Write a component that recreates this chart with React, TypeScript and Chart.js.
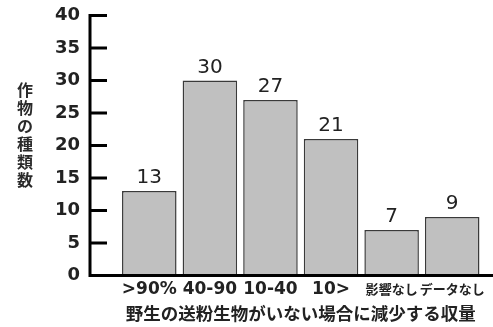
import React, { useEffect, useRef } from "react";
import { Chart, registerables } from "chart.js";

Chart.register(...registerables);

// Number of crop species by yield loss without wild pollinators
const categories = [">90%", "40-90", "10-40", "10>", "影響なし", "データなし"];
const cropCounts = [13, 30, 27, 21, 7, 9];
const yTitleChars = ["作", "物", "の", "種", "類", "数"];
const xTitle = "野生の送粉生物がいない場合に減少する収量";
const yMax = 40;
const yStep = 5;

const LATIN = "'DejaVu Sans', 'Noto Sans CJK JP', sans-serif";
const CJK = "'Noto Sans CJK JP', sans-serif";
const TEXT = "#222";

// Thick black L-shaped axes with inward tick marks on the y axis
const axesPlugin = {
  id: "axesL",
  afterDraw(chart: any) {
    const { ctx, chartArea, scales } = chart;
    const y = scales.y;
    const axisX = chartArea.left - 29;
    const base = y.getPixelForValue(0);
    const top = y.getPixelForValue(yMax);
    ctx.save();
    ctx.strokeStyle = "#000";
    ctx.lineWidth = 3;
    ctx.lineCap = "butt";
    ctx.beginPath();
    ctx.moveTo(axisX, top - 1.5);
    ctx.lineTo(axisX, base);
    ctx.moveTo(axisX - 1.5, base);
    ctx.lineTo(chart.width, base);
    for (let v = yStep; v <= yMax; v += yStep) {
      const py = y.getPixelForValue(v);
      ctx.moveTo(axisX, py);
      ctx.lineTo(axisX + 17, py);
    }
    ctx.stroke();
    ctx.restore();
  },
};

// Value labels above each bar
const valueLabelPlugin = {
  id: "valueLabels",
  afterDatasetsDraw(chart: any) {
    const { ctx } = chart;
    const meta = chart.getDatasetMeta(0);
    ctx.save();
    ctx.fillStyle = TEXT;
    ctx.font = `20px ${LATIN}`;
    ctx.textAlign = "center";
    ctx.textBaseline = "alphabetic";
    meta.data.forEach((bar: any, i: number) => {
      ctx.fillText(String(cropCounts[i]), bar.x, bar.y - 8);
    });
    ctx.restore();
  },
};

// Vertical y-axis title, one character per line
const yTitlePlugin = {
  id: "yTitleVertical",
  afterDraw(chart: any) {
    const { ctx } = chart;
    ctx.save();
    ctx.fillStyle = "#2a2a2a";
    ctx.font = `bold 16px ${CJK}`;
    ctx.textAlign = "center";
    ctx.textBaseline = "middle";
    yTitleChars.forEach((ch, i) => {
      ctx.fillText(ch, 25, 90 + i * 18);
    });
    ctx.restore();
  },
};

export default function App() {
  const canvasRef = useRef<HTMLCanvasElement | null>(null);

  useEffect(() => {
    document.body.style.margin = "0";
    const canvas = canvasRef.current;
    if (!canvas) return;
    const chart = new Chart(canvas, {
      type: "bar",
      data: {
        labels: categories,
        datasets: [
          {
            data: cropCounts,
            backgroundColor: "#c0c0c0",
            borderColor: "#3a3a3a",
            borderWidth: 1.5,
            barPercentage: 0.9,
            categoryPercentage: 1,
          },
        ],
      },
      options: {
        responsive: false,
        animation: false,
        devicePixelRatio: 1,
        layout: { padding: { top: 15.5, right: 10.5, left: 0, bottom: 0 } },
        plugins: {
          legend: { display: false },
          tooltip: { enabled: false },
        },
        scales: {
          x: {
            grid: { display: false, drawTicks: false },
            border: { display: false },
            ticks: {
              padding: 3,
              color: TEXT,
              autoSkip: false,
              maxRotation: 0,
              font: (c: any) =>
                c.index >= 4
                  ? { family: CJK, size: 13, weight: "bold", lineHeight: "21.6px" }
                  : { family: LATIN, size: 17, weight: "bold", lineHeight: "21.6px" },
            },
            title: {
              display: true,
              text: xTitle,
              color: TEXT,
              font: { family: CJK, size: 17.5, weight: "bold", lineHeight: 1.2 },
              padding: { top: 0, bottom: 3 },
            },
            afterFit: (s: any) => {
              s.height = 51.5;
            },
          },
          y: {
            min: 0,
            max: yMax,
            // invisible tick marks only reserve room between labels and plot
            grid: {
              display: true,
              drawOnChartArea: false,
              drawTicks: true,
              tickLength: 36,
              color: "rgba(0,0,0,0)",
            },
            border: { display: false },
            ticks: {
              stepSize: yStep,
              padding: 3,
              color: TEXT,
              font: { family: LATIN, size: 18, weight: "bold" },
            },
            afterFit: (s: any) => {
              s.width = 119;
            },
          },
        },
      },
      plugins: [axesPlugin, valueLabelPlugin, yTitlePlugin],
    });
    return () => chart.destroy();
  }, []);

  return (
    <div style={{ width: 493, height: 327 }}>
      <canvas ref={canvasRef} width={493} height={327} />
    </div>
  );
}
